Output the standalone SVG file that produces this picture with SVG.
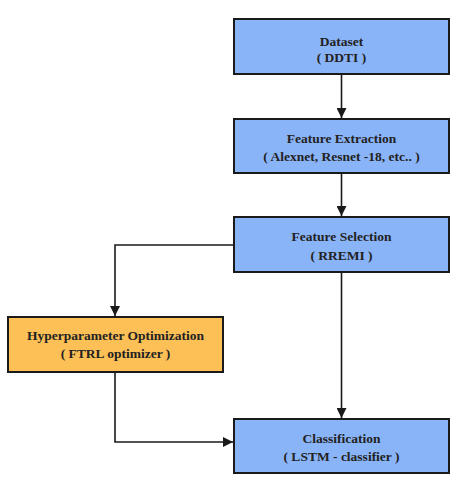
<svg xmlns="http://www.w3.org/2000/svg" width="465" height="480" viewBox="0 0 465 480">
<style>
.box{stroke:#1a1a1a;stroke-width:2}
.blue{fill:#8ab4f8}
.orange{fill:#fcc056}
text{font-family:"Liberation Serif","Times New Roman",serif;font-weight:bold;font-size:13.5px;fill:#222;text-anchor:middle}
.con{fill:none;stroke:#1a1a1a;stroke-width:1.6}
</style>
<defs>
<marker id="arr" viewBox="0 0 10 10" refX="10" refY="5" markerWidth="10" markerHeight="10" markerUnits="userSpaceOnUse" orient="auto">
<path d="M0,0 L10,5 L0,10 z" fill="#1a1a1a"/>
</marker>
</defs>
<rect width="465" height="480" fill="#ffffff"/>
<g id="connectors">
<line class="con" x1="341.5" y1="74" x2="341.5" y2="118" marker-end="url(#arr)"/>
<line class="con" x1="341.5" y1="173" x2="341.5" y2="216" marker-end="url(#arr)"/>
<polyline class="con" points="234,245 115,245 115,316" marker-end="url(#arr)"/>
<line class="con" x1="341.5" y1="272" x2="341.5" y2="418" marker-end="url(#arr)"/>
<polyline class="con" points="115,372 115,442 233,442" marker-end="url(#arr)"/>
</g>
<g id="dataset">
<rect class="box blue" x="234" y="19" width="215" height="55"/>
<text x="341.5" y="46">Dataset</text>
<text x="341.5" y="62">( DDTI )</text>
</g>
<g id="feature-extraction">
<rect class="box blue" x="234" y="119" width="215" height="54"/>
<text x="341.5" y="143">Feature Extraction</text>
<text x="341.5" y="161">( Alexnet, Resnet -18, etc.. )</text>
</g>
<g id="feature-selection">
<rect class="box blue" x="234" y="217" width="215" height="55"/>
<text x="341.5" y="241">Feature Selection</text>
<text x="341.5" y="260">( RREMI )</text>
</g>
<g id="hyperparameter">
<rect class="box orange" x="8" y="317" width="215" height="55"/>
<text x="115.5" y="340">Hyperparameter Optimization</text>
<text x="115.5" y="358">( FTRL optimizer )</text>
</g>
<g id="classification">
<rect class="box blue" x="234" y="419" width="215" height="54"/>
<text x="341.5" y="443">Classification</text>
<text x="341.5" y="461">( LSTM - classifier )</text>
</g>
</svg>
